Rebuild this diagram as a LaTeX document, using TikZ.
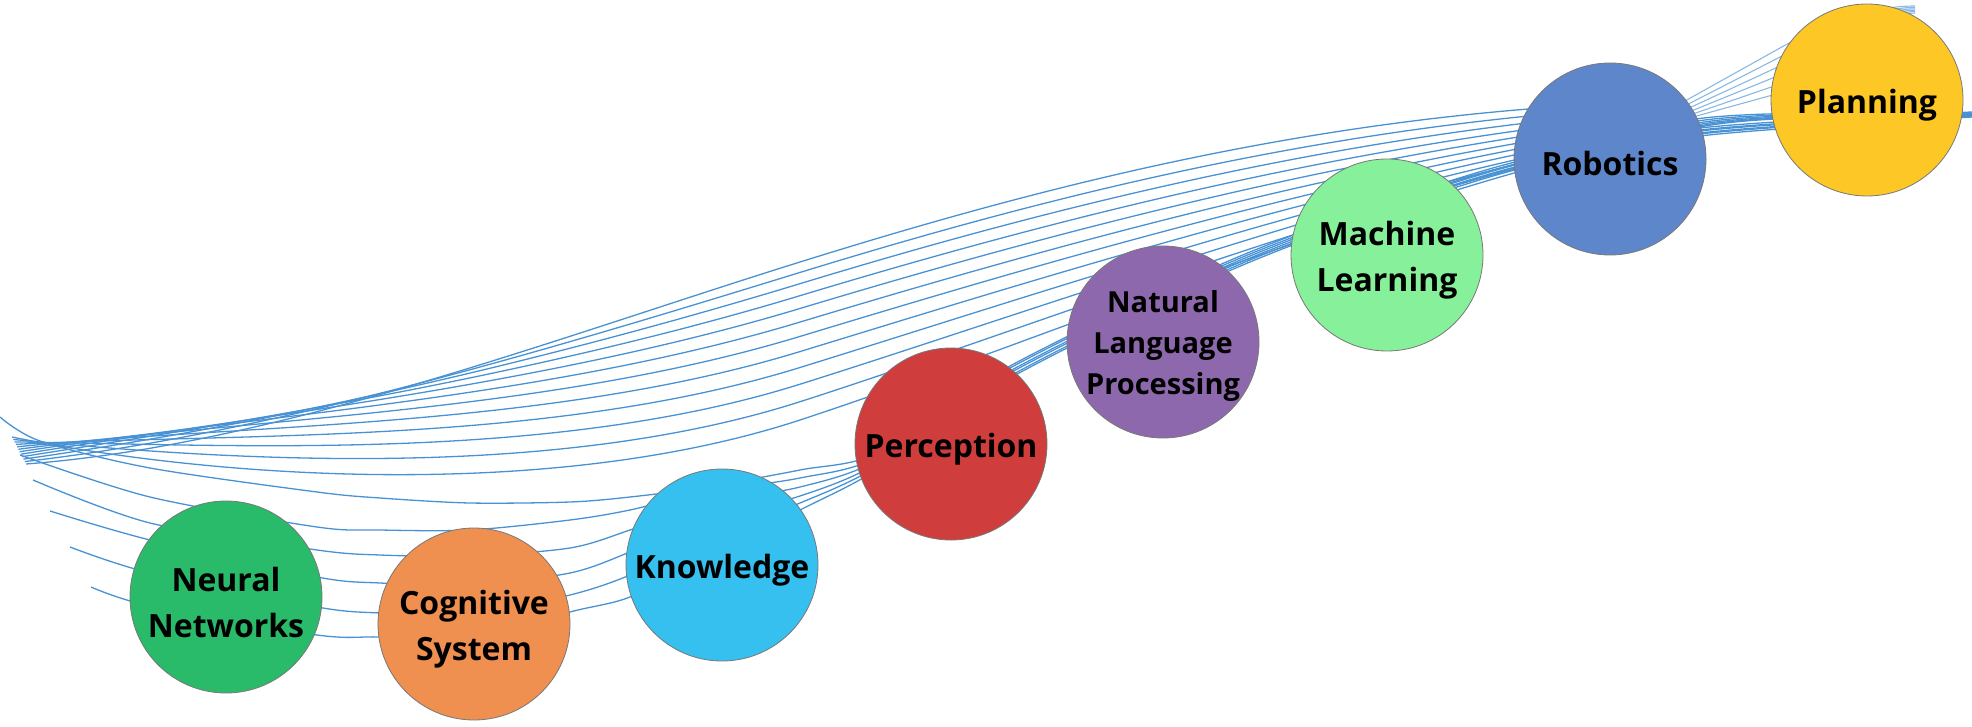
\documentclass[tikz,border=0pt]{standalone}
\usepackage{fontspec}
\setmainfont{Open Sans}
\definecolor{lineblue}{RGB}{72,146,212}
\definecolor{bordergray}{RGB}{120,120,120}
\definecolor{cNN}{RGB}{41,187,106}
\definecolor{cCS}{RGB}{239,143,80}
\definecolor{cKN}{RGB}{53,192,240}
\definecolor{cPE}{RGB}{207,61,61}
\definecolor{cNLP}{RGB}{142,104,172}
\definecolor{cML}{RGB}{135,240,154}
\definecolor{cRO}{RGB}{94,134,203}
\definecolor{cPL}{RGB}{253,199,37}
\begin{document}
\begin{tikzpicture}[x=1pt,y=-1pt,
  curve/.style={draw=lineblue, line width=1.3pt},
  tailcurve/.style={draw=lineblue!65, line width=1.1pt},
  bubble/.style={circle, minimum size=192pt, inner sep=0pt, draw=bordergray, line width=0.8pt},
  lbl/.style={align=center, text=black, font=\bfseries\fontsize{32}{46}\selectfont}]
\useasboundingbox (0,0) rectangle (1972,727);

% upper family of S-curves (control points interpolated between two extreme curves)
\foreach \i in {0,...,11}{
  \pgfmathsetmacro\vv{\i/11}
  \pgfmathsetmacro\wq{\vv*\vv}
  \pgfmathsetmacro\wa{\vv*(0.7+0.3*\vv)}
  \pgfmathsetmacro\wb{\vv*(1.6-0.6*\vv)}
  \pgfmathsetmacro\pAx{26-14*\vv}
  \pgfmathsetmacro\pAy{464-27*\vv}
  \pgfmathsetmacro\pBx{275-63*\wq}
  \pgfmathsetmacro\pBy{445-150*\vv+183*\wq}
  \pgfmathsetmacro\pCy{340+97*\vv+65*\wq}
  \pgfmathsetmacro\pDy{262+158*\wa}
  \pgfmathsetmacro\pEy{2*\pDy-\pCy}
  \pgfmathsetmacro\pFx{1340+60*\wb}
  \pgfmathsetmacro\pFy{108+79*\wb}
  \pgfmathsetmacro\pGx{1685+15*\wb}
  \pgfmathsetmacro\pGy{101+26*\wb}
  \draw[curve] (\pAx,\pAy) .. controls (\pBx,\pBy) and (550,\pCy) .. (800,\pDy)
     .. controls (1050,\pEy) and (\pFx,\pFy) .. (\pGx,\pGy) coordinate (tend\i);
  \ifnum\i<6
    \pgfmathsetmacro\pHy{48+9*\i}
    \pgfmathsetmacro\pKy{\pHy+50*(\pHy-\pGy)/(1780-\pGx)}
    \pgfmathsetmacro\pLy{6+1.4*\i}
    \draw[tailcurve] (tend\i) -- (1780,\pHy) .. controls (1830,\pKy) and (1875,\pLy) .. (1915,\pLy);
  \else
    \pgfmathsetmacro\pSlope{(\pGy-\pFy)/(\pGx-\pFx)}
    \pgfmathsetmacro\pMy{\pGy+60*\pSlope}
    \pgfmathsetmacro\pNy{106+0.4*(\pGy-101)}
    \pgfmathsetmacro\pMx{\pGx+60}
    \draw[curve] (tend\i) .. controls (\pMx,\pMy) and (1880,\pNy) .. (1972,\pNy);
  \fi
}

% lower sagging family, hugging the chain of circles
\draw[curve] plot[smooth] coordinates {(0,417) (40,441) (150,468) (317,492) (380,498) (470,503) (570,502) (630,497) (700,488) (800,470) (880,452) (1010,366) (1250,252) (1500,166) (1700,128) (1972,112)};
\draw[curve] plot[smooth] coordinates {(20,455) (150,497) (317,527) (380,530) (470,530) (570,520) (630,510) (700,493) (800,478) (880,456) (1010,368) (1250,254) (1500,168) (1700,130) (1972,113)};
\draw[curve] plot[smooth] coordinates {(33,480) (150,523) (317,550) (380,555) (470,556) (570,548) (630,530) (700,505) (800,487) (880,459) (1010,371) (1250,256) (1500,169) (1700,131) (1972,114)};
\draw[curve] plot[smooth] coordinates {(50,511) (150,540) (317,577) (380,583) (470,585) (570,573) (630,552) (700,522) (800,496) (880,462) (1010,373) (1250,258) (1500,171) (1700,133) (1972,115)};
\draw[curve] plot[smooth] coordinates {(70,547) (150,573) (317,607) (380,613) (470,615) (570,595) (630,575) (700,540) (800,503) (880,465) (1010,376) (1250,260) (1500,172) (1700,134) (1972,116)};
\draw[curve] plot[smooth] coordinates {(91,587) (150,606) (317,635) (380,637) (470,640) (570,612) (630,597) (700,560) (800,510) (880,468) (1010,378) (1250,262) (1500,174) (1700,136) (1972,117)};

% circles
\node[bubble, fill=cNN] (nn) at (226,597) {};
\node[bubble, fill=cCS] (cs) at (474,624) {};
\node[bubble, fill=cKN] (kn) at (722,565) {};
\node[bubble, fill=cPE] (pe) at (951,444) {};
\node[bubble, fill=cNLP] (nlp) at (1163,342) {};
\node[bubble, fill=cML] (ml) at (1387,255) {};
\node[bubble, fill=cRO] (ro) at (1610,159) {};
\node[bubble, fill=cPL] (pl) at (1867,100) {};

% labels
\node[lbl] (tnn) at ([yshift=-5pt]nn.center) {Neural\\Networks};
\node[lbl] (tcs) at ([yshift=-5pt]cs.center) {Cognitive\\System};
\node[lbl] (tkn) at ([yshift=-5pt]kn.center) {Knowledge};
\node[lbl] (tpe) at ([yshift=-5pt]pe.center) {Perception};
\node[lbl, font=\bfseries\fontsize{29}{41}\selectfont] (tnlp) at ([yshift=-4pt]nlp.center) {Natural\\Language\\Processing};
\node[lbl] (tml) at ([yshift=-5pt]ml.center) {Machine\\Learning};
\node[lbl] (tro) at ([yshift=-5pt]ro.center) {Robotics};
\node[lbl] (tpl) at ([yshift=-5pt]pl.center) {Planning};
\end{tikzpicture}
\end{document}
